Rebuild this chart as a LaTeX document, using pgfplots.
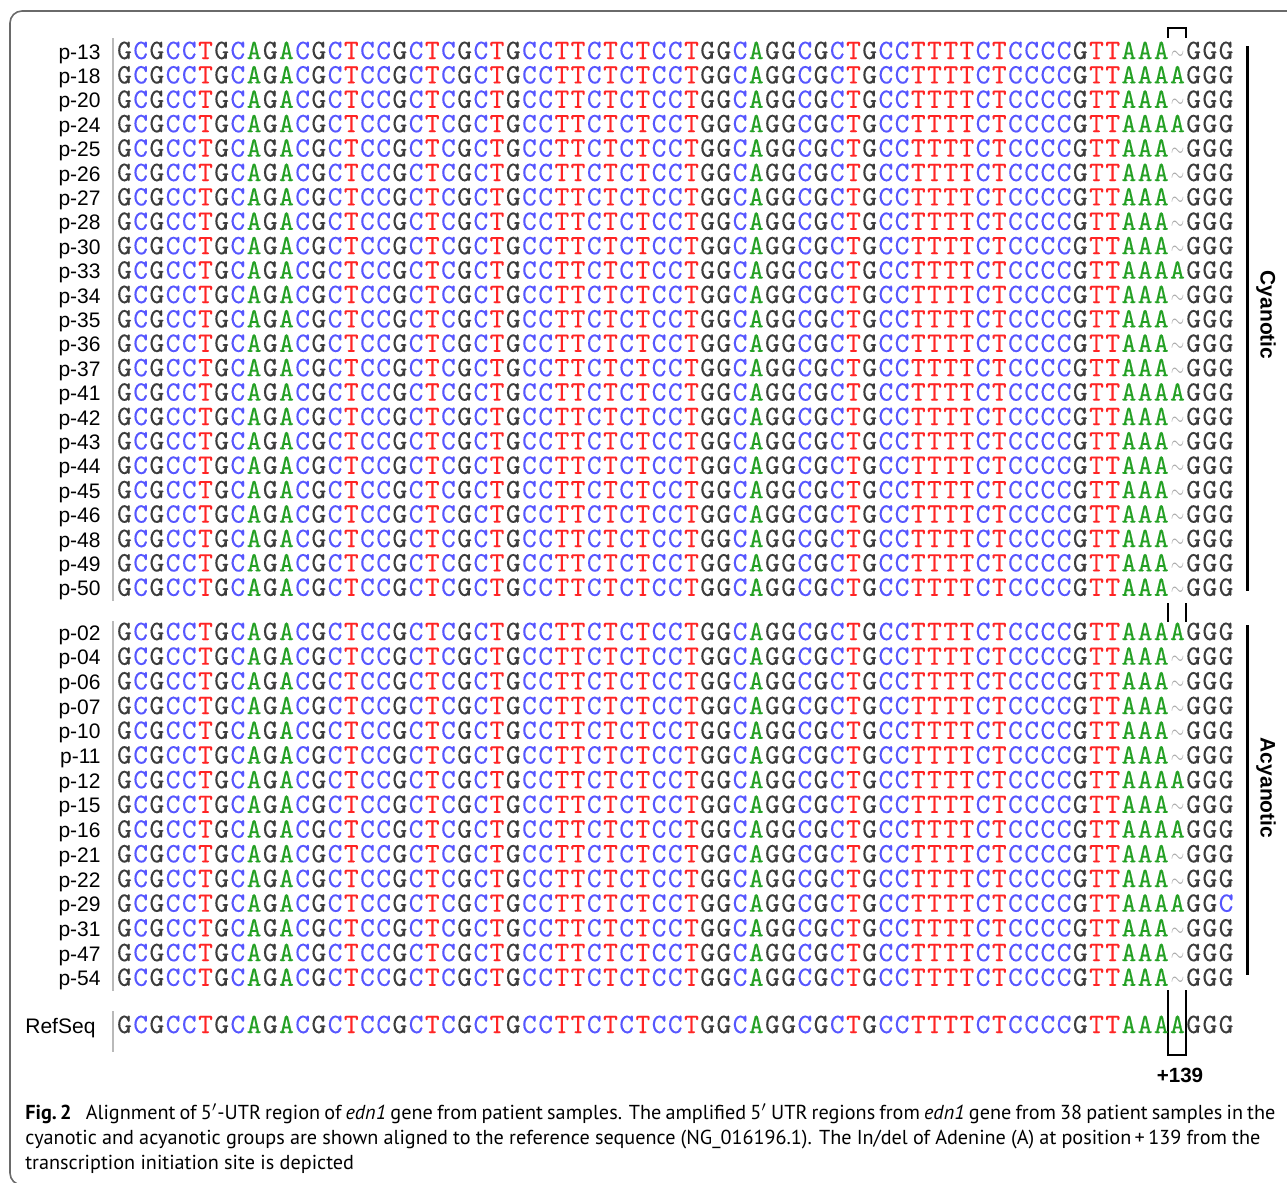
\documentclass[border=0pt]{standalone}
\usepackage{fontspec}
\setmainfont{Liberation Sans}
\newfontfamily\capfont{PT Sans}
\newfontfamily\seqfont{lmmono10-regular.otf}[FakeBold=0.3]
\usepackage{graphicx}
\usepackage{pgfplots}
\pgfplotsset{compat=1.18}
\usepackage{pgfplotstable}

% nucleotide colours
\definecolor{cG}{HTML}{3C3C3C}
\definecolor{cC}{HTML}{5656FF}
\definecolor{cT}{HTML}{FF2424}
\definecolor{cA}{HTML}{24A024}
\definecolor{gapc}{HTML}{A8A8A8}
\definecolor{framec}{HTML}{6A6A6A}

% one fixed-width cell per base, '-' is the gap
\newlength\cw \setlength\cw{8.1pt}
\newcommand\seqcell[1]{\makebox[\cw][c]{\if-#1\textcolor{gapc}{\scalebox{0.6}[0.8]{$\sim$}}\else\textcolor{c#1}{#1}\fi}}
\def\colseqi#1{\ifx\relax#1\else\seqcell{#1}\expandafter\colseqi\fi}
\newcommand\colseq[1]{\edef\seqtmp{#1}\expandafter\colseqi\seqtmp\relax}

% x = start of sequence, y = baseline (pixel units of the figure)
\pgfplotstableread{
x y lab seq
116 59.0 p-13 GCGCCTGCAGACGCTCCGCTCGCTGCCTTCTCTCCTGGCAGGCGCTGCCTTTTCTCCCCGTTAAA-GGG
116 83.4 p-18 GCGCCTGCAGACGCTCCGCTCGCTGCCTTCTCTCCTGGCAGGCGCTGCCTTTTCTCCCCGTTAAAAGGG
116 107.8 p-20 GCGCCTGCAGACGCTCCGCTCGCTGCCTTCTCTCCTGGCAGGCGCTGCCTTTTCTCCCCGTTAAA-GGG
116 132.2 p-24 GCGCCTGCAGACGCTCCGCTCGCTGCCTTCTCTCCTGGCAGGCGCTGCCTTTTCTCCCCGTTAAAAGGG
116 156.6 p-25 GCGCCTGCAGACGCTCCGCTCGCTGCCTTCTCTCCTGGCAGGCGCTGCCTTTTCTCCCCGTTAAA-GGG
116 181.0 p-26 GCGCCTGCAGACGCTCCGCTCGCTGCCTTCTCTCCTGGCAGGCGCTGCCTTTTCTCCCCGTTAAA-GGG
116 205.4 p-27 GCGCCTGCAGACGCTCCGCTCGCTGCCTTCTCTCCTGGCAGGCGCTGCCTTTTCTCCCCGTTAAA-GGG
116 229.8 p-28 GCGCCTGCAGACGCTCCGCTCGCTGCCTTCTCTCCTGGCAGGCGCTGCCTTTTCTCCCCGTTAAA-GGG
116 254.2 p-30 GCGCCTGCAGACGCTCCGCTCGCTGCCTTCTCTCCTGGCAGGCGCTGCCTTTTCTCCCCGTTAAA-GGG
116 278.6 p-33 GCGCCTGCAGACGCTCCGCTCGCTGCCTTCTCTCCTGGCAGGCGCTGCCTTTTCTCCCCGTTAAAAGGG
116 303.0 p-34 GCGCCTGCAGACGCTCCGCTCGCTGCCTTCTCTCCTGGCAGGCGCTGCCTTTTCTCCCCGTTAAA-GGG
116 327.4 p-35 GCGCCTGCAGACGCTCCGCTCGCTGCCTTCTCTCCTGGCAGGCGCTGCCTTTTCTCCCCGTTAAA-GGG
116 351.8 p-36 GCGCCTGCAGACGCTCCGCTCGCTGCCTTCTCTCCTGGCAGGCGCTGCCTTTTCTCCCCGTTAAA-GGG
116 376.2 p-37 GCGCCTGCAGACGCTCCGCTCGCTGCCTTCTCTCCTGGCAGGCGCTGCCTTTTCTCCCCGTTAAA-GGG
116 400.6 p-41 GCGCCTGCAGACGCTCCGCTCGCTGCCTTCTCTCCTGGCAGGCGCTGCCTTTTCTCCCCGTTAAAAGGG
116 425.0 p-42 GCGCCTGCAGACGCTCCGCTCGCTGCCTTCTCTCCTGGCAGGCGCTGCCTTTTCTCCCCGTTAAA-GGG
116 449.4 p-43 GCGCCTGCAGACGCTCCGCTCGCTGCCTTCTCTCCTGGCAGGCGCTGCCTTTTCTCCCCGTTAAA-GGG
116 473.8 p-44 GCGCCTGCAGACGCTCCGCTCGCTGCCTTCTCTCCTGGCAGGCGCTGCCTTTTCTCCCCGTTAAA-GGG
116 498.2 p-45 GCGCCTGCAGACGCTCCGCTCGCTGCCTTCTCTCCTGGCAGGCGCTGCCTTTTCTCCCCGTTAAA-GGG
116 522.6 p-46 GCGCCTGCAGACGCTCCGCTCGCTGCCTTCTCTCCTGGCAGGCGCTGCCTTTTCTCCCCGTTAAA-GGG
116 547.0 p-48 GCGCCTGCAGACGCTCCGCTCGCTGCCTTCTCTCCTGGCAGGCGCTGCCTTTTCTCCCCGTTAAA-GGG
116 571.4 p-49 GCGCCTGCAGACGCTCCGCTCGCTGCCTTCTCTCCTGGCAGGCGCTGCCTTTTCTCCCCGTTAAA-GGG
116 595.8 p-50 GCGCCTGCAGACGCTCCGCTCGCTGCCTTCTCTCCTGGCAGGCGCTGCCTTTTCTCCCCGTTAAA-GGG
116 640.0 p-02 GCGCCTGCAGACGCTCCGCTCGCTGCCTTCTCTCCTGGCAGGCGCTGCCTTTTCTCCCCGTTAAAAGGG
116 664.7 p-04 GCGCCTGCAGACGCTCCGCTCGCTGCCTTCTCTCCTGGCAGGCGCTGCCTTTTCTCCCCGTTAAA-GGG
116 689.4 p-06 GCGCCTGCAGACGCTCCGCTCGCTGCCTTCTCTCCTGGCAGGCGCTGCCTTTTCTCCCCGTTAAA-GGG
116 714.1 p-07 GCGCCTGCAGACGCTCCGCTCGCTGCCTTCTCTCCTGGCAGGCGCTGCCTTTTCTCCCCGTTAAA-GGG
116 738.8 p-10 GCGCCTGCAGACGCTCCGCTCGCTGCCTTCTCTCCTGGCAGGCGCTGCCTTTTCTCCCCGTTAAA-GGG
116 763.5 p-11 GCGCCTGCAGACGCTCCGCTCGCTGCCTTCTCTCCTGGCAGGCGCTGCCTTTTCTCCCCGTTAAA-GGG
116 788.2 p-12 GCGCCTGCAGACGCTCCGCTCGCTGCCTTCTCTCCTGGCAGGCGCTGCCTTTTCTCCCCGTTAAAAGGG
116 812.9 p-15 GCGCCTGCAGACGCTCCGCTCGCTGCCTTCTCTCCTGGCAGGCGCTGCCTTTTCTCCCCGTTAAA-GGG
116 837.6 p-16 GCGCCTGCAGACGCTCCGCTCGCTGCCTTCTCTCCTGGCAGGCGCTGCCTTTTCTCCCCGTTAAAAGGG
116 862.3 p-21 GCGCCTGCAGACGCTCCGCTCGCTGCCTTCTCTCCTGGCAGGCGCTGCCTTTTCTCCCCGTTAAA-GGG
116 887.0 p-22 GCGCCTGCAGACGCTCCGCTCGCTGCCTTCTCTCCTGGCAGGCGCTGCCTTTTCTCCCCGTTAAA-GGG
116 911.7 p-29 GCGCCTGCAGACGCTCCGCTCGCTGCCTTCTCTCCTGGCAGGCGCTGCCTTTTCTCCCCGTTAAAAGGC
116 936.4 p-31 GCGCCTGCAGACGCTCCGCTCGCTGCCTTCTCTCCTGGCAGGCGCTGCCTTTTCTCCCCGTTAAA-GGG
116 961.1 p-47 GCGCCTGCAGACGCTCCGCTCGCTGCCTTCTCTCCTGGCAGGCGCTGCCTTTTCTCCCCGTTAAA-GGG
116 985.8 p-54 GCGCCTGCAGACGCTCCGCTCGCTGCCTTCTCTCCTGGCAGGCGCTGCCTTTTCTCCCCGTTAAA-GGG
}\samples

\pgfplotstableread{
x y lab seq
116 1033 RefSeq GCGCCTGCAGACGCTCCGCTCGCTGCCTTCTCTCCTGGCAGGCGCTGCCTTTTCTCCCCGTTAAAAGGG
}\refseq

\begin{document}
\begin{tikzpicture}
\begin{axis}[
    name=ax,
    scale only axis,
    width=643.5pt, height=591.5pt,
    xmin=0, xmax=1287, ymin=0, ymax=1183,
    y dir=reverse,
    hide axis,
    clip=false,
    seqrow/.style={draw=none, mark=none, point meta=explicit symbolic,
        nodes near coords={\colseq{\pgfplotspointmeta}},
        every node near coord/.append style={anchor=base west, inner sep=0pt,
            font=\seqfont\fontsize{14pt}{14pt}\selectfont}},
]
    % frame
    \addplot[framec, line width=0.8pt, rounded corners=6pt]
        coordinates {(1320,1185) (10,1185) (10,11) (1320,11)};

    % gray bars left of the sequences
    \addplot[gray!55, line width=1pt] coordinates {(113,38) (113,601)};
    \addplot[gray!55, line width=1pt] coordinates {(113,621) (113,991)};
    \addplot[gray!55, line width=1pt] coordinates {(113,1011) (113,1052)};

    % sequences
    \addplot[seqrow] table[x=x, y=y, meta=seq] {\samples};
    \addplot[seqrow] table[x=x, y=y, meta=seq] {\refseq};

    % sample labels
    \addplot[draw=none, mark=none, point meta=explicit symbolic,
        nodes near coords,
        every node near coord/.append style={anchor=base east, inner sep=0pt,
            xshift=-7.5pt, font=\fontsize{10.5pt}{12pt}\selectfont}]
        table[x=x, y=y, meta=lab] {\samples};
    \node[anchor=base west, inner sep=0pt, font=\fontsize{10.5pt}{12pt}\selectfont]
        at (axis cs:25,1033) {RefSeq};

    % group lines
    \addplot[black, line width=1.5pt] coordinates {(1247,46) (1247,591)};
    \addplot[black, line width=1.5pt] coordinates {(1247,625) (1247,975)};
    \node[rotate=-90, font=\bfseries\fontsize{10.5pt}{12pt}\selectfont]
        at (axis cs:1266,315) {Cyanotic};
    \node[rotate=-90, font=\bfseries\fontsize{10.5pt}{12pt}\selectfont]
        at (axis cs:1266,788) {Acyanotic};

    % position +139 markers
    \addplot[black, line width=1.2pt] coordinates {(1168,38) (1168,28) (1186,28) (1186,38)};
    \addplot[black, line width=1.2pt] coordinates {(1168,603) (1168,622)};
    \addplot[black, line width=1.2pt] coordinates {(1186,603) (1186,622)};
    \addplot[black, line width=1.2pt] coordinates {(1168,990) (1168,1055) (1186,1055) (1186,990)};
    \node[anchor=base, inner sep=0pt, font=\bfseries\fontsize{10.3pt}{12pt}\selectfont]
        at (axis cs:1180,1082) {+139};

    % caption
    \node[anchor=base west, inner sep=0pt, font=\capfont\fontsize{10.1pt}{12pt}\selectfont]
        at (axis cs:25,1119) {\makebox[625pt][s]{\textbf{Fig.\,2}\hspace{0.7em}Alignment of 5$'$-UTR region of \textit{edn1} gene from patient samples. The amplified 5$'$ UTR regions from \textit{edn1} gene from 38 patient samples in the}};
    \node[anchor=base west, inner sep=0pt, font=\capfont\fontsize{10.1pt}{12pt}\selectfont]
        at (axis cs:25,1144) {\makebox[617.5pt][s]{cyanotic and acyanotic groups are shown aligned to the reference sequence (NG\_016196.1). The In/del of Adenine (A) at position\,+\,139 from the}};
    \node[anchor=base west, inner sep=0pt, font=\capfont\fontsize{10.1pt}{12pt}\selectfont]
        at (axis cs:25,1169) {transcription initiation site is depicted};
\end{axis}
\pgfresetboundingbox
\path (ax.south west) rectangle (ax.north east);
\end{tikzpicture}
\end{document}
